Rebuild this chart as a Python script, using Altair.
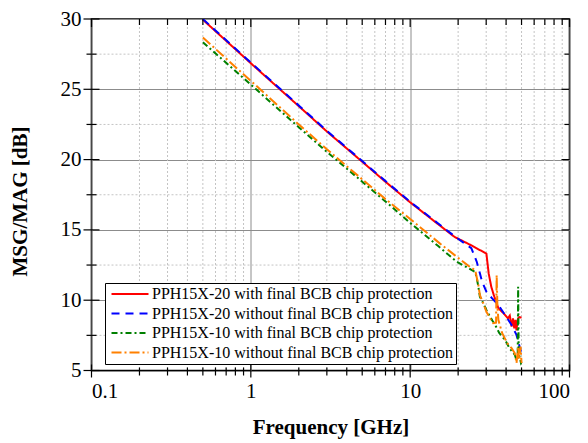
import altair as alt
import pandas as pd

S_RED = "PPH15X-20 with final BCB chip protection"
S_BLUE = "PPH15X-20 without final BCB chip protection"
S_GREEN = "PPH15X-10 with final BCB chip protection"
S_ORANGE = "PPH15X-10 without final BCB chip protection"

series_names = [S_RED, S_BLUE, S_GREEN, S_ORANGE]
series_colors = ["#ff0000", "#0000ff", "#008000", "#ff8000"]
series_dashes = [[1, 0], [8, 6], [6, 3, 2, 3], [10, 3, 2, 3]]

red_f = [0.5, 1, 2, 3, 5, 7, 10, 15, 19, 24.2, 30.1, 31.1, 32.3, 33.5, 35.8, 38.6, 41.1,
         42.2, 43.3, 44.2, 45.0, 45.8, 46.5, 47.0, 47.6, 48.5, 50]
red_v = [29.95, 26.85, 23.8, 22.0, 19.85, 18.42, 16.96, 15.4, 14.5, 13.9, 13.31, 11.9, 10.95,
         10.36, 9.42, 9.07, 8.71, 8.9, 8.12, 8.7, 8.0, 8.6, 7.85, 8.4, 8.71, 8.8, 8.75]

blue_f = [0.5, 1, 2, 3, 5, 7, 10, 15, 19, 24.2, 26.2, 28.3, 30.1, 32.7, 35.8, 39.4, 43.3,
          46.5, 48.6, 49.6]
blue_v = [30.0, 26.9, 23.85, 22.05, 19.9, 18.47, 17.0, 15.45, 14.55, 13.7, 12.72, 11.3, 10.6,
          10.13, 9.65, 8.95, 8.24, 7.53, 6.7, 6.35]

green_f = [0.5, 1, 2, 3, 5, 7, 10, 15, 19.5, 23, 25.6, 26.2, 26.8, 27.4, 28.8, 30.1, 31.7,
           33.0, 33.8, 34.3, 36.3, 39.4, 42.0, 45.3, 46.5, 47.3, 47.6, 48.0, 49.6, 50]
green_v = [28.35, 25.33, 22.3, 20.55, 18.43, 17.02, 15.5, 13.85, 12.75, 12.3, 12.0, 11.54,
           10.95, 10.24, 9.77, 9.3, 8.83, 8.5, 8.36, 8.2, 7.65, 7.18, 6.59, 6.12, 5.76, 5.9,
           10.95, 6.24, 5.53, 5.6]

orange_f = [0.5, 1, 2, 3, 5, 7, 10, 15, 19.1, 23, 25.6, 26.2, 26.8, 27.4, 28.8, 30.1, 31.7,
            33.2, 34.6, 34.9, 35.3, 35.8, 37.8, 40.7, 43.3, 45.3, 46.5, 47.6, 48.3, 49.3, 50]
orange_v = [28.68, 25.6, 22.5, 20.73, 18.6, 17.19, 15.78, 14.13, 13.19, 12.48, 12.13, 11.6,
            11.07, 10.36, 9.77, 9.18, 8.71, 8.36, 8.4, 11.78, 9.5, 8.59, 7.65, 6.94, 6.59,
            6.24, 5.53, 6.7, 5.76, 6.7, 5.53]

x_major = [0.1, 1, 10, 100]
x_minor = [0.2, 0.3, 0.4, 0.5, 0.6, 0.7, 0.8, 0.9,
           2, 3, 4, 5, 6, 7, 8, 9,
           20, 30, 40, 50, 60, 70, 80, 90]
y_major = [5, 10, 15, 20, 25, 30]
y_minor = [7.5, 12.5, 17.5, 22.5, 27.5]

rows = []
for name, fs, vs in [(S_RED, red_f, red_v), (S_BLUE, blue_f, blue_v),
                     (S_GREEN, green_f, green_v), (S_ORANGE, orange_f, orange_v)]:
    for i, (f, v) in enumerate(zip(fs, vs)):
        rows.append({"series": name, "f": f, "v": v, "i": i})
df = pd.DataFrame(rows)

W, H = 478, 351.5
FONT = "'Liberation Serif', 'Times New Roman', Times, serif"
xs = alt.Scale(type="log", domain=[0.1, 100], nice=False)
ys = alt.Scale(domain=[5, 30], nice=False, zero=False)

dfxm = pd.DataFrame({"f": x_minor})
dfxM = pd.DataFrame({"f": x_major})
dfym = pd.DataFrame({"v": y_minor})
dfyM = pd.DataFrame({"v": y_major})

X = lambda: alt.X("f:Q", scale=xs)
Y = lambda: alt.Y("v:Q", scale=ys)

grid_x_minor = alt.Chart(dfxm).mark_rule(color="#c4c4c4", strokeDash=[2, 2], strokeWidth=1).encode(x=X())
grid_y_minor = alt.Chart(dfym).mark_rule(color="#c4c4c4", strokeDash=[2, 2], strokeWidth=1).encode(y=Y())

legend_cfg = dict(title=None, orient="none", legendX=13.5, legendY=264,
                  symbolType="M-3.7,0H3.7", symbolSize=100, symbolStrokeWidth=2,
                  symbolOffset=14, labelFont=FONT, labelFontSize=16, labelColor="black",
                  labelLimit=500, labelOffset=14, rowPadding=3.5,
                  padding=3, strokeColor="black", fillColor="white", cornerRadius=0)

lines = alt.Chart(df).mark_line(strokeWidth=2, clip=True).encode(
    x=alt.X("f:Q", scale=xs,
            axis=alt.Axis(values=x_major, format="~g", title="Frequency [GHz]",
                          grid=True, gridColor="#8c8c8c", gridWidth=1,
                          ticks=False, domain=False,
                          labelFont=FONT, labelFontSize=21, labelColor="black", labelPadding=10,
                          titleFont=FONT, titleFontSize=21, titleFontWeight="bold",
                          titleColor="black", titlePadding=15)),
    y=alt.Y("v:Q", scale=ys,
            axis=alt.Axis(values=y_major, title="MSG/MAG [dB]",
                          grid=True, gridColor="#8c8c8c", gridWidth=1,
                          ticks=False, domain=False,
                          labelFont=FONT, labelFontSize=21, labelColor="black", labelPadding=10.5,
                          titleFont=FONT, titleFontSize=21, titleFontWeight="bold",
                          titleColor="black", titlePadding=30, titleY=182)),
    color=alt.Color("series:N", scale=alt.Scale(domain=series_names, range=series_colors),
                    legend=alt.Legend(**legend_cfg)),
    strokeDash=alt.StrokeDash("series:N", scale=alt.Scale(domain=series_names, range=series_dashes),
                              legend=alt.Legend(**legend_cfg)),
    order="i:Q",
)

tick_color = "black"
def yticks(d, a, b):
    return alt.Chart(d).mark_rule(color=tick_color, strokeWidth=1.2).encode(
        y=Y(), x=alt.value(a), x2=alt.value(b))
def xticks(d, a, b):
    return alt.Chart(d).mark_rule(color=tick_color, strokeWidth=1.2).encode(
        x=X(), y=alt.value(a), y2=alt.value(b))

chart = alt.layer(
    grid_x_minor, grid_y_minor, lines,
    yticks(dfyM, -8, 8), yticks(dfym, -5, 5),
    yticks(dfyM, W - 8, W), yticks(dfym, W - 5, W),
    xticks(dfxM, H - 6, H + 7), xticks(dfxm, H - 3, H + 5),
    xticks(dfxM, 0, 8), xticks(dfxm, 0, 6),
).properties(
    width=W, height=H,
    autosize=alt.AutoSizeParams(type="none"),
    padding={"left": 83.5, "top": 11, "right": 10, "bottom": 74},
    background="white",
).configure_view(stroke="black", strokeWidth=1.6)

chart.save("out.html", embed_options={"renderer": "svg", "actions": False})
